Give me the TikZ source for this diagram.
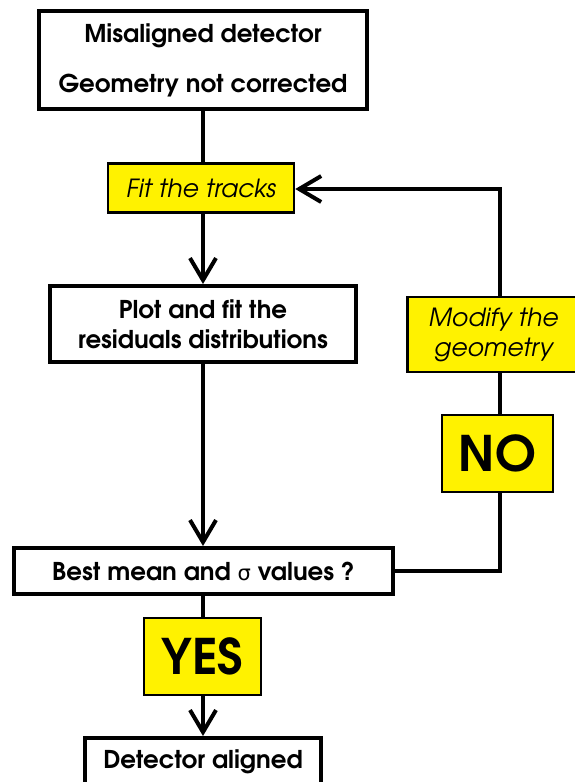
\documentclass[tikz,border=0pt]{standalone}
\usepackage{fontspec}
\setmainfont{texgyreadventor}[Extension=.otf, UprightFont=*-regular, BoldFont=*-bold, ItalicFont=*-italic, BoldItalicFont=*-bolditalic]
\newfontfamily\greekf{DejaVu Sans}
\usetikzlibrary{arrows.meta}
\begin{document}
\begin{tikzpicture}[x=1pt,y=-1pt,
  box/.style={draw, line width=4pt, rectangle, inner sep=0pt, align=center, fill=white,
    font=\bfseries\fontsize{24.5}{30}\selectfont},
  ybox/.style={draw, line width=2.5pt, fill=yellow, rectangle, inner sep=0pt, align=center},
  itxt/.style={font=\itshape\fontsize{25}{30}\selectfont},
  btxt/.style={font=\bfseries\fontsize{49}{50}\selectfont},
  conn/.style={line width=4pt},
  arr/.style={conn, -{Straight Barb[length=22pt,width=26pt]}}]
\clip (0,0) rectangle (575,782);
\useasboundingbox (0,0) rectangle (575,782);

\node[box, minimum width=328pt, minimum height=98pt] (start) at (203,60)
  {Misaligned detector\\[20pt]Geometry not corrected};
\node[ybox, itxt, minimum width=186pt, minimum height=49pt] (fit) at (201,188) {Fit the tracks};
\node[box, minimum width=306pt, minimum height=76pt] (plot) at (203,324)
  {Plot and fit the\\residuals distributions};
\node[ybox, itxt, minimum width=172pt, minimum height=75pt] (modify) at (493.5,334.5)
  {Modify the\\geometry};
\node[ybox, btxt, minimum width=111pt, minimum height=77pt] (no) at (497.5,453.5) {NO};
\node[box, minimum width=379pt, minimum height=46pt] (best) at (203.5,571)
  {Best mean and {\mdseries\greekf\fontsize{21}{30}\selectfont σ} values ?};
\node[ybox, btxt, minimum width=117pt, minimum height=77pt] (yes) at (202.5,656.5) {YES};
\node[box, minimum width=236pt, minimum height=48pt] (done) at (203,762) {Detector aligned};

\coordinate (c1) at (500,571);
\coordinate (c2) at (500,189);

\draw[conn] (start.south) -- (start.south |- fit.north);
\draw[arr] (fit.south -| start.south) -- (plot.north);
\draw[arr] (plot.south) -- (plot.south |- best.north);
\draw[conn] (best.south -| plot.south) -- (plot.south |- yes.north);
\draw[arr] (yes.south -| plot.south) -- (plot.south |- done.north);
\draw[conn] (best.east) -- (c1) -- (c1 |- no.south);
\draw[conn] (no.north -| c1) -- (c1 |- modify.south);
\draw[arr] (c1 |- modify.north) -- (c2) -- (fit.east |- c2);
\end{tikzpicture}
\end{document}
